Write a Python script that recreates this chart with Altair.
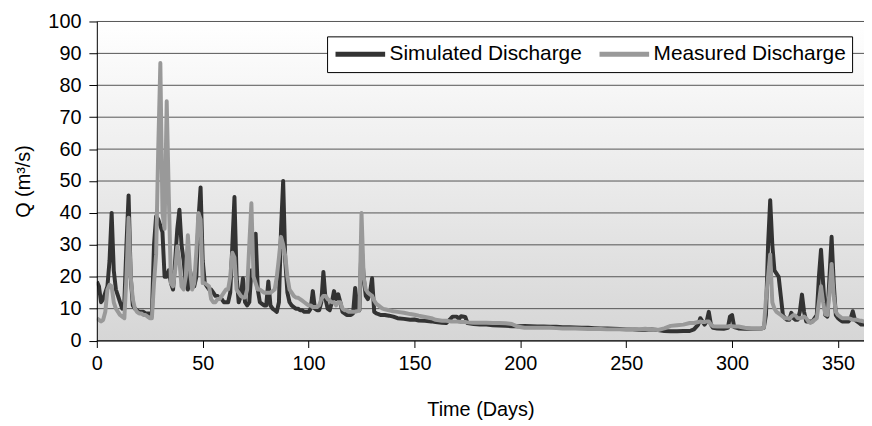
import altair as alt
import pandas as pd

# ---------------- data ----------------
SERIES = ["Simulated Discharge", "Measured Discharge"]
COLORS = ["#333333", "#999999"]
X_TICKS = [0, 50, 100, 150, 200, 250, 300, 350]
Y_TICKS = [0, 10, 20, 30, 40, 50, 60, 70, 80, 90, 100]

# days 0..135 (daily)
SIM_A = [18.5, 17, 12, 13, 15, 17, 25, 40, 22, 16,
         14, 12, 10, 12, 30, 45.5, 20, 11, 10, 9.5,
         9, 9, 9, 8.5, 8.5, 8.5, 8, 30, 39, 38,
         36, 34, 20, 20, 22, 18, 16, 25, 35, 41,
         30, 25, 18, 16, 22, 18, 17, 20, 38, 48,
         25, 18, 17, 16, 16, 15, 14, 14, 13, 13,
         12, 12, 12, 15, 30, 45, 20, 12, 14, 19.5,
         12, 11, 12, 22, 20, 33.5, 16, 12, 11.5, 11,
         11, 18.5, 11, 10, 9.5, 9, 12, 35, 50, 25,
         15, 12, 11, 10.5, 10, 10, 9.5, 9.5, 9, 9,
         9, 10, 15.5, 10, 9.5, 9.5, 12, 21.5, 13, 10,
         9.5, 12, 15.5, 13, 14.5, 12, 9, 8.5, 8, 8,
         8, 8.5, 16.5, 10, 9.5, 30, 20, 14, 13, 15,
         19.5, 9, 8.5, 8.3, 8, 8]
MEAS_A = [7, 6.5, 6, 6.5, 9, 16, 17.5, 17, 12, 10,
          9, 8, 7.5, 7, 20, 38.5, 20, 13, 10, 9,
          8.5, 8.5, 8, 8, 7.5, 7, 7, 18, 27, 60,
          87, 40, 35, 75, 45, 18, 17, 22, 29.5, 25,
          17, 16, 20, 33, 22, 16, 18, 28, 40, 38,
          18, 18, 17.5, 17, 13, 12, 12, 13, 13, 14,
          15, 16, 16, 20, 27.5, 26, 16, 15, 14, 13.5,
          13.5, 16, 30, 43, 20, 18, 16, 16, 15.5, 15,
          15, 15, 15, 15.5, 16, 20, 26, 32.5, 30, 26.5,
          20, 16, 15, 14, 13.5, 13.4, 13, 12.5, 12, 11.5,
          11, 11, 10.5, 10.5, 10.5, 11, 13, 14, 14, 13,
          12.5, 12, 12, 11, 12, 12, 10, 9.5, 9.5, 9,
          9, 9, 9, 9.2, 9.5, 40, 20, 16, 15, 14.5,
          14, 12.5, 11.5, 11, 10.5, 10]

# days 136..315 (sampled)
DAYS_B = [136, 138, 140, 142, 145, 148, 150, 152, 155, 158,
          160, 163, 165, 167, 168, 170, 171, 172, 174, 175,
          178, 181, 184, 187, 190, 193, 196, 199, 202, 205,
          208, 211, 214, 217, 220, 223, 226, 229, 232, 235,
          238, 241, 244, 247, 250, 253, 256, 259, 262, 265,
          268, 271, 274, 277, 280, 282, 284, 285, 286, 287,
          288, 289, 290, 291, 293, 296, 298, 299, 300, 301,
          303, 306, 309, 312, 314, 315]
SIM_B = [8, 7.8, 7.5, 7, 6.8, 6.5, 6.6, 6.3, 6.2, 6,
         5.8, 5.6, 5.5, 6.8, 7.5, 7.5, 6.8, 7.6, 7.4, 5.5,
         5.2, 5, 5, 4.8, 4.7, 4.6, 4.5, 4.5, 4.6, 4.5,
         4.4, 4.4, 4.3, 4.3, 4.2, 4.2, 4.1, 4, 4, 3.9,
         3.8, 3.8, 3.7, 3.6, 3.5, 3.5, 3.4, 3.4, 3.5, 3.3,
         3, 2.9, 2.9, 3, 3, 3.5, 5, 7, 6, 5,
         6, 9, 5, 4, 3.8, 3.7, 4, 7.5, 8, 4.2,
         3.8, 3.7, 3.7, 3.7, 3.8, 4]
MEAS_B = [9.8, 9.5, 9.2, 9, 8.7, 8.3, 8.1, 7.8, 7.4, 7,
          6.5, 6.2, 6.2, 6, 6, 6, 5.9, 5.8, 5.8, 5.7,
          5.6, 5.6, 5.6, 5.5, 5.5, 5.4, 5.2, 4.3, 4, 4,
          4, 4, 4, 3.9, 3.8, 3.8, 3.8, 3.7, 3.6, 3.6,
          3.6, 3.5, 3.5, 3.5, 3.5, 3.6, 3.5, 3.7, 3.5, 3.3,
          3.8, 4.6, 4.8, 5, 5.5, 5.5, 5.8, 6, 5.8, 5.8,
          6, 6, 5, 4.5, 4.4, 4.4, 4.4, 4.6, 4.5, 4.4,
          4.4, 4, 3.8, 3.7, 3.7, 4]

# days 316..363 (daily)
SIM_C = [8, 30, 44, 30, 22, 21, 20, 14, 8, 7,
         6.5, 6.5, 8.7, 7, 6.5, 6.5, 9, 14.4, 9, 6,
         6, 6, 6, 7, 8, 20, 28.5, 18, 8, 7.5,
         20, 32.5, 18, 8, 7, 6.5, 6, 6, 6, 6,
         7, 9.2, 6.5, 6, 5.5, 5, 5, 5]
MEAS_C = [13, 20, 27, 12, 10, 9, 8.5, 8, 7.5, 7,
          7, 6.8, 7.5, 8, 7.8, 7, 7, 7.2, 7.5, 7,
          6, 5.5, 6, 6.5, 7, 12, 17, 12, 8.3, 8,
          15, 24, 14, 9, 8, 7.5, 7, 7, 7, 7,
          6.8, 6.5, 6.5, 6.5, 6.3, 6.2, 6, 6]

DAYS = list(range(0, 136)) + DAYS_B + list(range(316, 364))
SIM = SIM_A + SIM_B + SIM_C
MEAS = MEAS_A + MEAS_B + MEAS_C
assert len(DAYS) == len(SIM) == len(MEAS)

n = len(DAYS)
df = pd.DataFrame({
    "day": DAYS * 2,
    "q": SIM + MEAS,
    "series": [SERIES[0]] * n + [SERIES[1]] * n,
})

# ---------------- chart ----------------
W = 773
H = 321.5
FONT = "Liberation Sans"

x_enc = alt.X(
    "day:Q",
    scale=alt.Scale(domain=[0, 362.3], nice=False, zero=False),
    axis=alt.Axis(
        values=X_TICKS, title="Time (Days)", grid=False,
        domainColor="black", tickColor="black", tickSize=7,
        labelFont=FONT, labelFontSize=20, labelColor="black",
        labelPadding=6, labelFlush=False,
        titleFont=FONT, titleFontSize=20, titleFontWeight="normal",
        titleColor="black", titlePadding=27, zindex=1,
    ),
)
y_enc = alt.Y(
    "q:Q",
    scale=alt.Scale(domain=[0, 100], nice=False),
    axis=alt.Axis(
        values=Y_TICKS, title="Q  (m³/s)", grid=False,
        domainColor="black", tickColor="black", tickSize=8,
        labelFont=FONT, labelFontSize=20, labelColor="black",
        labelPadding=8,
        titleFont=FONT, titleFontSize=20, titleFontWeight="normal",
        titleColor="black", titlePadding=14, zindex=1,
    ),
)
color_enc = alt.Color(
    "series:N",
    scale=alt.Scale(domain=SERIES, range=COLORS),
    legend=alt.Legend(
        title=None, orient="none", legendX=232, legendY=15,
        direction="horizontal", symbolType="stroke", symbolSize=2500,
        symbolStrokeWidth=5, clipHeight=24,
        labelFont=FONT, labelFontSize=21, labelColor="black",
        labelOffset=2, labelLimit=0, columnPadding=15,
        strokeColor="black", fillColor="white", padding=6,
    ),
)

bg = alt.Chart(alt.Data(values=[{"k": 1}])).mark_rect(
    fill=alt.Gradient(
        gradient="linear",
        stops=[alt.GradientStop(color="#ffffff", offset=0),
               alt.GradientStop(color="#d6d6d6", offset=1)],
        x1=0, x2=0, y1=0, y2=1,
    )
).encode(x=alt.value(0), x2=alt.value(W), y=alt.value(0), y2=alt.value(H))

grid = alt.Chart(pd.DataFrame({"q": Y_TICKS})).mark_rule(
    color="#555555", strokeWidth=1
).encode(y=y_enc, x=alt.value(0), x2=alt.value(W))

sim = alt.Chart(df).transform_filter(
    alt.datum.series == SERIES[0]
).mark_line(strokeWidth=4, clip=True, strokeJoin="round").encode(
    x=x_enc, y=y_enc, color=color_enc
)
meas = alt.Chart(df).transform_filter(
    alt.datum.series == SERIES[1]
).mark_line(strokeWidth=4, clip=True, strokeJoin="round").encode(
    x=x_enc, y=y_enc, color=color_enc
)

chart = alt.layer(bg, grid, sim, meas).properties(
    width=W, height=H,
    padding={"left": 89.5, "top": 12, "right": 0, "bottom": 83},
    autosize=alt.AutoSizeParams(type="none"),
    background="white",
).configure_view(strokeWidth=0)

chart.save("out.html", embed_options={"renderer": "svg", "actions": False})
